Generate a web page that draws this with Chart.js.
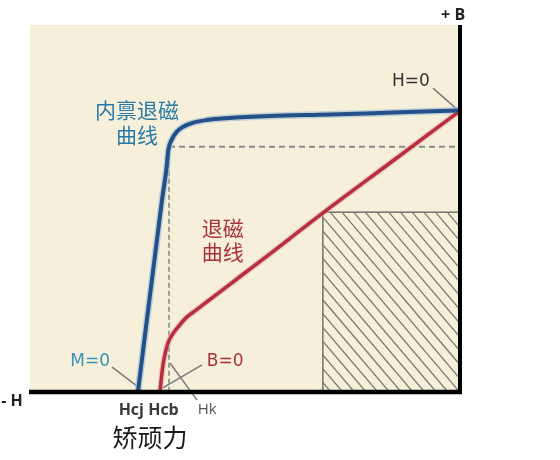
<!DOCTYPE html>
<html><head><meta charset="utf-8">
<script src="https://cdn.jsdelivr.net/npm/chart.js@4.4.0/dist/chart.umd.min.js"></script>
<style>html,body{margin:0;padding:0;background:#fff}#wrap{width:560px;height:460px}</style>
</head><body><div id="wrap"><canvas id="c" width="560" height="460"></canvas></div>
<script>
// Intrinsic demagnetization curve (内禀退磁曲线): H (x) and B (y) in relative units
const intrinsicH = [-74.9, -69.3, -68.21, -67.84, -67.05, -65.88, -64.35, -62.02, -58.91, -54.26, -44.19, -30.23, -13.95, 0];
const intrinsicB = [0, 52.3, 61.4, 65.9, 68.7, 70.9, 72.3, 73.4, 74.1, 74.6, 75.2, 75.6, 76.2, 76.7];
// Normal demagnetization curve (退磁曲线)
const normalH = [-69.77, -69.42, -69.0, -68.49, -67.91, -66.98, -65.58, -63.72, -61.4, -58.6, -55.81, -45.81, -31.86, -16.28, 0];
const normalB = [0, 4.1, 7.9, 10.9, 13.35, 15.5, 17.7, 20.2, 22.3, 24.8, 27.3, 36.2, 48.8, 62.4, 76.6];
// Hk guide (dashed) lines
const hkH = -67.67;
const hkB = 66.8;
// Max energy product rectangle
const rectH = [-31.9, 0];
const rectB = [0, 49.0];
// Leader lines [H1,B1,H2,B2]
const leaders = [
  [-6.28, 82.8, -0.47, 76.8],
  [-80.9, 6.8, -74.2, 0.8],
  [-60.0, 7.4, -69.1, 1.1],
  [-67.44, 7.9, -61.16, -2.2]
];
// Text labels [text, H, B, font, color]
const CJK = '"Noto Sans CJK SC", sans-serif';
const labels = [
  ['内禀退磁', -75.1, 76.8, '21px ' + CJK, '#2a7aa6'],
  ['曲线', -75.1, 70.0, '21px ' + CJK, '#2a7aa6'],
  ['退磁', -55.2, 44.7, '21px ' + CJK, '#a8323c'],
  ['曲线', -55.2, 38.1, '21px ' + CJK, '#a8323c'],
  ['H=0', -11.4, 84.5, '17px "DejaVu Sans"', '#333333'],
  ['M=0', -86.0, 8.2, '17px "DejaVu Sans"', '#3a93b8'],
  ['B=0', -54.6, 8.2, '17px "DejaVu Sans"', '#a8323c'],
  ['Hk', -58.8, -4.9, '15px "Open Sans"', '#555555'],
  ['Hcj Hcb', -72.4, -4.9, 'bold 16px "Open Sans"', '#3a3a3a'],
  ['矫顽力', -72.1, -12.4, '25px ' + CJK, '#1a1a1a'],
  ['- H', -104.2, -2.5, 'bold 16px "Open Sans"', '#222222'],
  ['+ B', -1.6, 102.6, 'bold 16px "Open Sans"', '#222222']
];

const pts = (hs, bs) => hs.map((h, i) => ({x: h, y: bs[i]}));

const drawPlugin = {
  id: 'draw',
  beforeDatasetsDraw(chart) {
    const {ctx, chartArea: a, scales: {x, y}} = chart;
    ctx.save();
    ctx.fillStyle = '#f6f0da';
    ctx.fillRect(a.left, a.top, a.right - a.left, a.bottom - a.top);
    const rx0 = x.getPixelForValue(rectH[0]), rx1 = x.getPixelForValue(rectH[1]);
    const ry0 = y.getPixelForValue(rectB[1]), ry1 = y.getPixelForValue(rectB[0]);
    ctx.save();
    ctx.beginPath(); ctx.rect(rx0, ry0, rx1 - rx0, ry1 - ry0); ctx.clip();
    ctx.strokeStyle = '#7a7a72'; ctx.lineWidth = 1.3;
    const hgt = ry1 - ry0, k = 0.85;
    for (let o = -hgt; o < (rx1 - rx0) + 12; o += 11.7) {
      ctx.beginPath();
      ctx.moveTo(rx0 + o, ry0);
      ctx.lineTo(rx0 + o + hgt * k, ry1);
      ctx.stroke();
    }
    ctx.restore();
    ctx.strokeStyle = '#7a7a72'; ctx.lineWidth = 1.6;
    ctx.strokeRect(rx0, ry0, rx1 - rx0, ry1 - ry0);
    ctx.strokeStyle = '#858b8c'; ctx.lineWidth = 2;
    ctx.setLineDash([6, 4]);
    ctx.beginPath();
    ctx.moveTo(x.getPixelForValue(hkH), y.getPixelForValue(hkB));
    ctx.lineTo(x.getPixelForValue(0), y.getPixelForValue(hkB));
    ctx.stroke();
    ctx.setLineDash([5, 3]); ctx.lineWidth = 1.6;
    ctx.beginPath();
    ctx.moveTo(x.getPixelForValue(hkH), y.getPixelForValue(hkB));
    ctx.lineTo(x.getPixelForValue(hkH), y.getPixelForValue(0));
    ctx.stroke();
    ctx.setLineDash([]);
    ctx.strokeStyle = '#7b7b7b'; ctx.lineWidth = 1.5;
    leaders.forEach(l => {
      ctx.beginPath();
      ctx.moveTo(x.getPixelForValue(l[0]), y.getPixelForValue(l[1]));
      ctx.lineTo(x.getPixelForValue(l[2]), y.getPixelForValue(l[3]));
      ctx.stroke();
    });
    ctx.restore();
  },
  afterDatasetsDraw(chart) {
    const {ctx, chartArea: a, scales: {x, y}} = chart;
    ctx.save();
    ctx.strokeStyle = '#000'; ctx.lineWidth = 4.5;
    const x0 = x.getPixelForValue(0), y0 = y.getPixelForValue(0);
    ctx.beginPath(); ctx.moveTo(a.left - 1, y0); ctx.lineTo(x0 + 2, y0); ctx.stroke();
    ctx.lineWidth = 4;
    ctx.beginPath(); ctx.moveTo(x0, a.top); ctx.lineTo(x0, y0 + 2); ctx.stroke();
    ctx.textAlign = 'center'; ctx.textBaseline = 'middle';
    labels.forEach(t => {
      ctx.font = t[3]; ctx.fillStyle = t[4];
      ctx.fillText(t[0], x.getPixelForValue(t[1]), y.getPixelForValue(t[2]));
    });
    ctx.restore();
  }
};

new Chart(document.getElementById('c'), {
  type: 'scatter',
  data: {
    datasets: [
      {data: pts(intrinsicH, intrinsicB), showLine: true, borderColor: '#24508a', borderWidth: 4, pointRadius: 0, cubicInterpolationMode: 'monotone'},
      {data: pts(normalH, normalB), showLine: true, borderColor: '#b72f3d', borderWidth: 3.5, pointRadius: 0, cubicInterpolationMode: 'monotone'},
      {data: pts(intrinsicH, intrinsicB), showLine: true, borderColor: 'rgba(170,195,215,0.7)', borderWidth: 7, pointRadius: 0, cubicInterpolationMode: 'monotone'},
      {data: pts(normalH, normalB), showLine: true, borderColor: 'rgba(225,170,170,0.6)', borderWidth: 6, pointRadius: 0, cubicInterpolationMode: 'monotone'}
    ]
  },
  options: {
    responsive: false, animation: false, devicePixelRatio: 1,
    layout: {padding: {left: 30, right: 100, top: 25, bottom: 68}},
    plugins: {legend: {display: false}, tooltip: {enabled: false}},
    scales: {
      x: {type: 'linear', min: -100, max: 0, display: false},
      y: {type: 'linear', min: 0, max: 100, display: false}
    }
  },
  plugins: [drawPlugin]
});
</script></body></html>
